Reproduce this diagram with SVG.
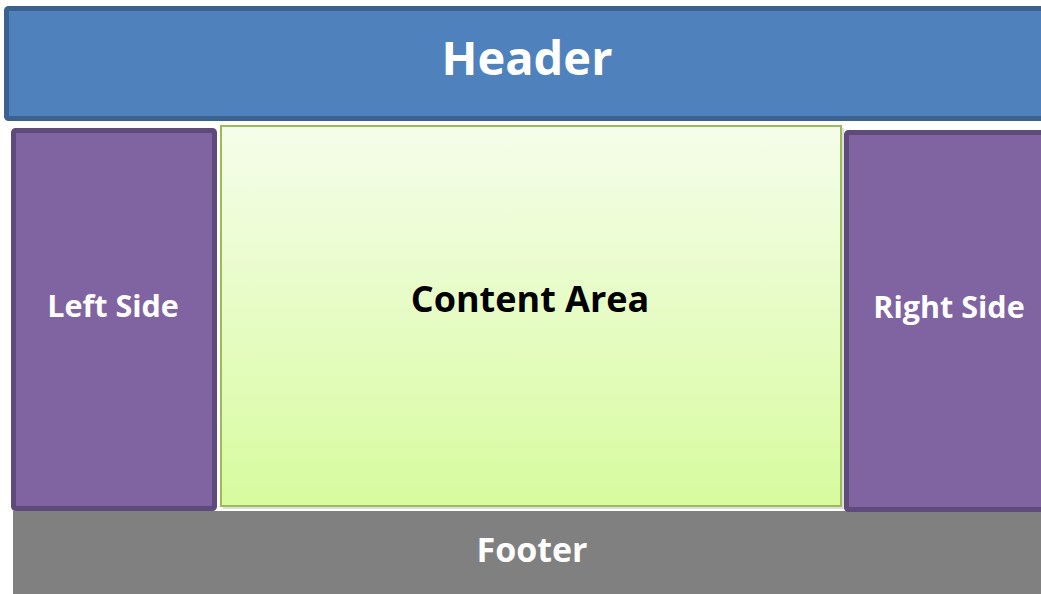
<svg xmlns="http://www.w3.org/2000/svg" width="1041" height="594" viewBox="0 0 1041 594">
  <defs>
    <linearGradient id="contentGrad" x1="0" y1="0" x2="0" y2="1">
      <stop offset="0" stop-color="#f5fdea"/>
      <stop offset="1" stop-color="#d7fb9e"/>
    </linearGradient>
    <style>
      .lbl { font-family: "Open Sans", "Liberation Sans", sans-serif; font-weight: bold; text-anchor: middle; }
      .white { fill: #ffffff; }
      .side { fill: #8064a2; stroke: #5e4a7b; stroke-width: 5; }
    </style>
  </defs>
  <rect width="1041" height="594" fill="#ffffff"/>
  <g id="footer">
    <rect x="13" y="511" width="1028" height="83" fill="#808080"/>
    <text class="lbl white" x="532" y="562" font-size="34">Footer</text>
  </g>
  <g id="header">
    <rect x="6.5" y="8.5" width="1040" height="110" rx="2" fill="#4f81bd" stroke="#3b6190" stroke-width="5"/>
    <text class="lbl white" x="527" y="75" font-size="47">Header</text>
  </g>
  <g id="left-side">
    <rect class="side" x="13.5" y="130.5" width="201" height="378" rx="2"/>
    <text class="lbl white" x="113" y="317" font-size="30.5">Left Side</text>
  </g>
  <g id="content-area">
    <rect x="223" y="128" width="621" height="381" fill="#c8c8c8" opacity="0.6"/>
    <rect x="221" y="126" width="620" height="380" fill="url(#contentGrad)" stroke="#9bbb59" stroke-width="2"/>
    <text class="lbl" x="530" y="312" font-size="36" fill="#000000">Content Area</text>
  </g>
  <g id="right-side">
    <rect class="side" x="846.5" y="132.5" width="200" height="377" rx="2"/>
    <text class="lbl white" x="949" y="318" font-size="30.5">Right Side</text>
  </g>
  <g id="connectors"></g>
</svg>
